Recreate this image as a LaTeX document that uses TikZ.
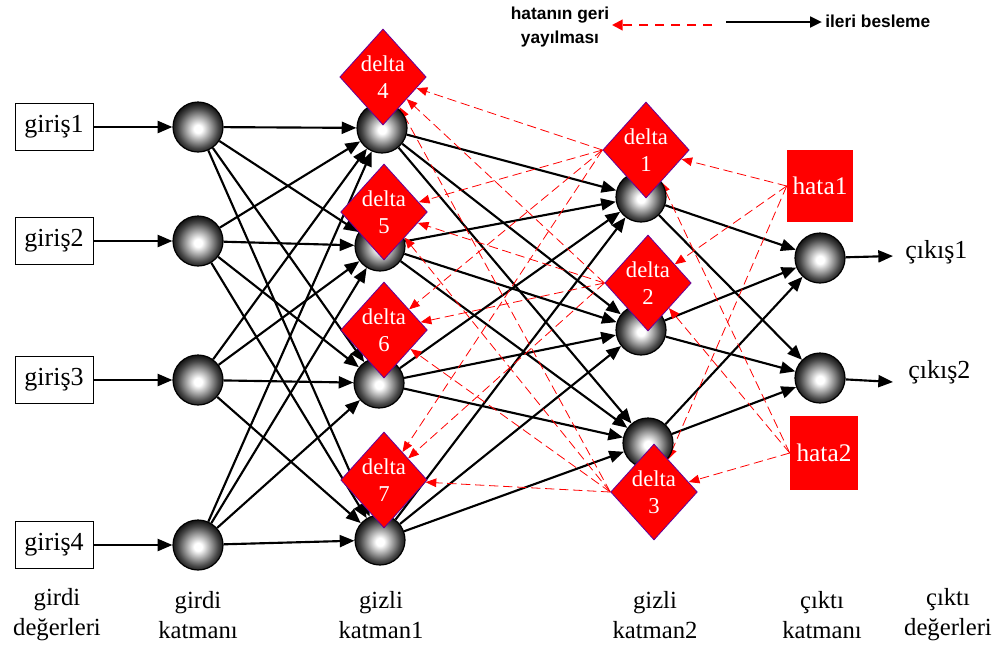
\documentclass[tikz,border=0pt]{standalone}
\usepackage{fontspec}
\setmainfont{Liberation Serif}
\newfontfamily\legfont{Liberation Sans}
\usetikzlibrary{arrows.meta,shapes.geometric}
\pgfdeclarelayer{background}
\pgfsetlayers{background,main}
\pgfdeclareradialshading{neuronshade}{\pgfpoint{0bp}{-2bp}}{color(0bp)=(white); color(4bp)=(white); color(13bp)=(black!40); color(20bp)=(black!72); color(25bp)=(black!90); color(50bp)=(black)}
\begin{document}
\begin{tikzpicture}[x=0.75pt,y=-0.75pt,
  neuron/.style={circle, draw=black, line width=0.9pt, shade, shading=neuronshade, minimum size=37.5pt, inner sep=0pt},
  deltabox/.style={diamond, fill=red, draw=violet!80!blue, line width=0.6pt, minimum width=61pt, minimum height=72pt, inner sep=0pt, text=white, align=center, font=\fontsize{17}{20}\selectfont},
  inbox/.style={draw, line width=0.6pt, minimum width=58.5pt, minimum height=35pt, inner sep=0pt, font=\fontsize{19.5}{22}\selectfont},
  hatabox/.style={fill=red, text=white, inner sep=0pt, font=\fontsize{19}{22}\selectfont},
  fwd/.style={line width=1.6pt, -{Triangle[length=11pt,width=9pt]}},
  back/.style={red, line width=0.6pt, dash pattern=on 7pt off 3.5pt, -{Triangle[length=8pt,width=6.5pt]}},
  lbl/.style={align=center, font=\fontsize{18.5}{22.5}\selectfont},
  outlbl/.style={anchor=west, inner sep=0pt, font=\fontsize{19.5}{22}\selectfont},
  legtxt/.style={align=center, inner sep=0pt, font=\legfont\bfseries\fontsize{13}{18}\selectfont}
]
\useasboundingbox (0,0) rectangle (993,651);

% input boxes
\node[inbox] (in1) at (54,127) {giriş1};
\node[inbox] (in2) at (54,241) {giriş2};
\node[inbox] (in3) at (54,380) {giriş3};
\node[inbox] (in4) at (54,545) {giriş4};

% input layer
\node[neuron] (i1) at (198,127) {};
\node[neuron] (i2) at (198,241) {};
\node[neuron] (i3) at (198,380) {};
\node[neuron] (i4) at (198,545) {};

% hidden layer 1
\node[neuron] (h1) at (382,128) {};
\node[neuron] (h2) at (380,246) {};
\node[neuron] (h3) at (379,383) {};
\node[neuron] (h4) at (380,540) {};

% hidden layer 2
\node[neuron] (k1) at (641,197) {};
\node[neuron] (k2) at (641,330) {};
\node[neuron] (k3) at (648,443) {};

% output layer
\node[neuron] (o1) at (820,258) {};
\node[neuron] (o2) at (820,378) {};

% deltas
\node[deltabox] (d4) at (383,77) {delta\\4};
\node[deltabox] (d5) at (384,212) {delta\\5};
\node[deltabox] (d6) at (384,330) {delta\\6};
\node[deltabox] (d7) at (384,480) {delta\\7};
\node[deltabox] (d1) at (646,150) {delta\\1};
\node[deltabox] (d2) at (648,283) {delta\\2};
\node[deltabox] (d3) at (654,492) {delta\\3};

% errors
\node[hatabox, minimum width=49.5pt, minimum height=54pt] (hata1) at (820,186) {hata1};
\node[hatabox, minimum width=51pt, minimum height=55.5pt] (hata2) at (824,453) {hata2};

% outputs
\coordinate (c1) at (893,256);
\coordinate (c2) at (893,382);
\node[outlbl] (out1) at (905,252) {çıkış1};
\node[outlbl] (out2) at (908,372) {çıkış2};

% legend
\node[legtxt] (legt) at (560,27) {hatanın geri\\yayılması};
\coordinate (lrs) at (712,25);
\coordinate (lre) at (612,25);
\coordinate (lbs) at (726,22);
\coordinate (lbe) at (822,22);
\node[legtxt, anchor=west] (legf) at (825,21) {ileri besleme};
\draw[red, line width=1.6pt, dash pattern=on 7pt off 5pt, -{Triangle[length=8pt,width=8pt]}] (lrs) -- (lre);
\draw[line width=2pt, -{Triangle[length=9pt,width=8pt]}] (lbs) -- (lbe);

% bottom labels
\node[lbl] (b1) at (57,615) {girdi\\değerleri};
\node[lbl] (b2) at (198,615) {girdi\\katmanı};
\node[lbl] (b3) at (381,615) {gizli\\katman1};
\node[lbl] (b4) at (655,615) {gizli\\katman2};
\node[lbl] (b5) at (822,615) {çıktı\\katmanı};
\node[lbl] (b6) at (948,615) {çıktı\\değerleri};

\begin{pgfonlayer}{background}
\foreach \a in {1,...,4} {
  \draw[fwd] (in\a) -- (i\a);
  \foreach \b in {1,...,4} \draw[fwd] (i\a) -- (h\b);
  \foreach \b in {1,2,3} \draw[fwd] (h\a) -- (k\b);
}
\foreach \a in {1,2,3} \foreach \b in {1,2} \draw[fwd] (k\a) -- (o\b);
\draw[fwd] (o1) -- (c1);
\draw[fwd] (o2) -- (c2);
\foreach \s in {1,2,3} \foreach \t in {4,...,7} \draw[back] (d\s.west) -- (d\t);
\foreach \t in {1,2,3} {
  \draw[back] (hata1.west) -- (d\t);
  \draw[back] (hata2.west) -- (d\t);
}
\end{pgfonlayer}
\end{tikzpicture}
\end{document}
